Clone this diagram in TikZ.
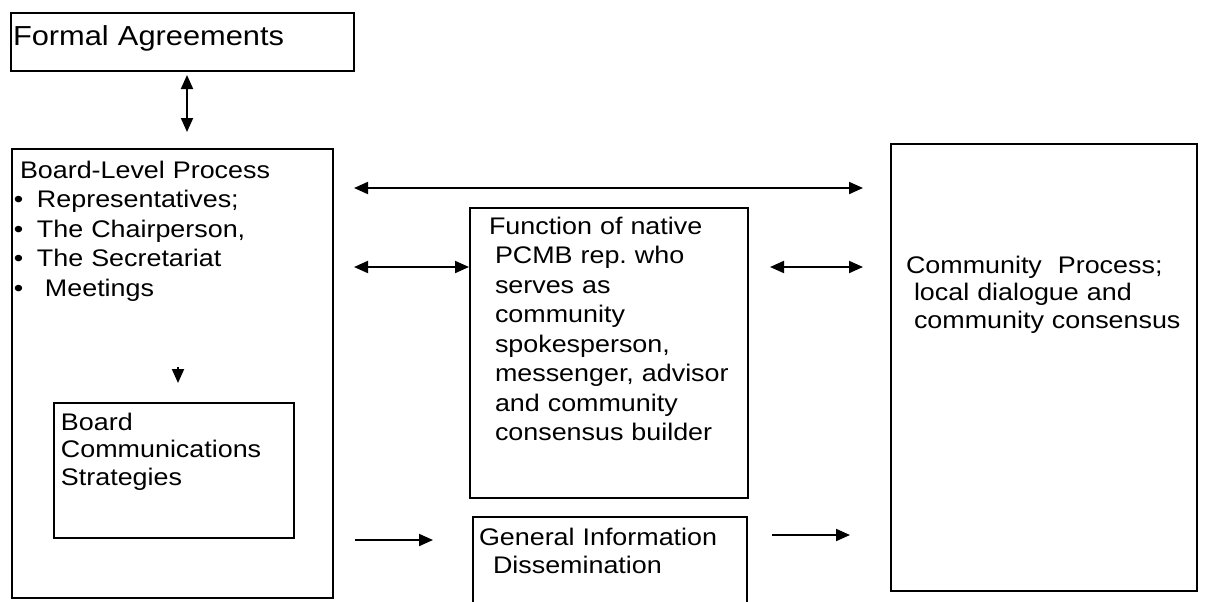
\documentclass[tikz,border=0pt]{standalone}
\usepackage{fontspec}
\setmainfont{Liberation Sans}[FakeStretch=1.12]
\usepackage{tikz}
\usetikzlibrary{arrows.meta}
\frenchspacing

\begin{document}
\begin{tikzpicture}[x=0.5pt,y=-0.5pt,line width=1pt,
	box/.style={draw,inner sep=0,anchor=north west},
	txt/.style={anchor=base west,inner sep=0,align=left,text width=150pt,font=\fontsize{12}{14.75}\selectfont},
	arr/.style={-{Triangle[length=7pt,width=6pt]}},
	dbl/.style={{Triangle[length=7pt,width=6pt]}-{Triangle[length=7pt,width=6pt]}}]
	\useasboundingbox (0,0) rectangle (1205,601);
	\node[box,minimum width=171.5pt,minimum height=29pt] (formal) at (10,12) {}; %formal
	\node[box,minimum width=160.5pt,minimum height=224.5pt] (board) at (11,148) {}; %board
	\node[box,minimum width=120pt,minimum height=67.5pt] (strat) at (53,402) {};
	\node[box,minimum width=139pt,minimum height=145pt] (func) at (469,207) {}; %PCMB rep.
	\node[box,minimum width=137pt,minimum height=65pt] (gen) at (472,516) {};
	\node[box,minimum width=153pt,minimum height=223.5pt] (comm) at (890,143) {}; %community
	\node[txt,font=\fontsize{13.75}{16}\selectfont] (formaltxt) at (12,45) {Formal Agreements};
	\node[txt] (boardtxt) at (19,178) {Board-Level Process\\
		\hspace*{-3pt}\textbullet\hspace{6.8pt}Representatives;\\
		\hspace*{-3pt}\textbullet\hspace{6.8pt}The Chairperson,\\
		\hspace*{-3pt}\textbullet\hspace{6.8pt}The Secretariat\\
		\hspace*{-3pt}\textbullet\hspace{10.8pt}Meetings};
	\node[txt,font=\fontsize{12}{13.75}\selectfont] (strattxt) at (60,430) {Board\\Communications\\Strategies};
	\node[txt] (functxt) at (494,234) {\hspace*{-3pt}Function of native\\PCMB rep. who\\serves as\\community\\spokesperson,\\messenger, advisor\\and community\\consensus builder};
	\node[txt,font=\fontsize{12}{14}\selectfont] (gentxt) at (478,545) {General Information\\\hspace*{7pt}Dissemination};
	\node[txt,font=\fontsize{12}{13.75}\selectfont] (commtxt) at (913,273) {\hspace*{-4pt}Community\ \ Process;\\local dialogue and\\community consensus};
	\coordinate (fa) at (187,70);
	\coordinate (dn) at (178,367);
	\coordinate (top) at (0,188);
	\coordinate (mid) at (0,267);
	\coordinate (low) at (0,540);
	\coordinate (low2) at (0,535);
	\draw[dbl,shorten <=2.5pt,shorten >=8pt] (fa) -- (fa |- board.north);
	\draw[arr,shorten >=9.5pt] (dn) -- (dn |- strat.north);
	\draw[dbl,shorten <=10pt,shorten >=13.5pt] (board.east |- top) -- (comm.west |- top);
	\draw[dbl,shorten <=10pt] (board.east |- mid) -- (func.west |- mid);
	\draw[dbl,shorten <=10.5pt,shorten >=13.5pt] (func.east |- mid) -- (comm.west |- mid);
	\draw[arr,shorten <=10.5pt,shorten >=19.5pt] (board.east |- low) -- (gen.west |- low);
	\draw[arr,shorten <=12pt,shorten >=20pt] (gen.east |- low2) -- (comm.west |- low2);
\end{tikzpicture}
\end{document}
